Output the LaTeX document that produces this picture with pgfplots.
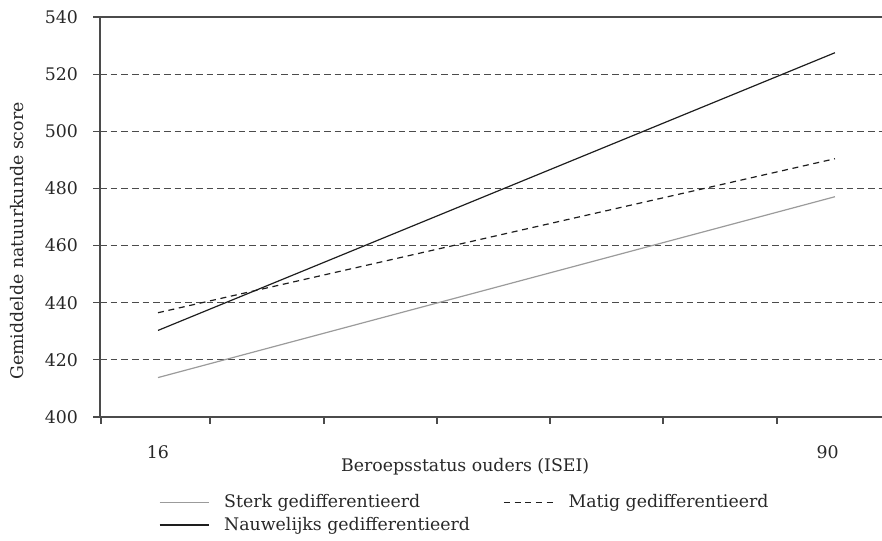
\documentclass[border=0pt]{standalone}
\usepackage{fontspec}
\setmainfont{DejaVu Serif}
\usepackage{pgfplots}
\pgfplotsset{compat=1.18}
\definecolor{axisgray}{RGB}{75,75,75}
\definecolor{textgray}{RGB}{40,40,40}
\definecolor{lightline}{RGB}{155,155,155}
\definecolor{darkline}{RGB}{30,30,30}
\begin{document}
\fontsize{13pt}{15pt}\selectfont
\color{textgray}
\begin{tikzpicture}
\useasboundingbox (-75pt,-92.25pt) rectangle (586.5pt,312.75pt);
\begin{axis}[
  scale only axis, width=586.5pt, height=300pt,
  xmin=9.66, xmax=95.14, ymin=400, ymax=540,
  axis x line=bottom, axis y line=left,
  axis line style={axisgray, line width=0.9pt, -},
  tick align=outside, major tick length=5pt,
  tick style={axisgray, line width=0.9pt},
  xtick={9.77,21.68,34.14,46.49,58.85,71.20,83.66}, xticklabels={},
  extra x ticks={16,89.2}, extra x tick labels={16,90},
  extra x tick style={major tick length=0pt, xticklabel style={yshift=-17pt}},
  ytick={400,420,440,460,480,500,520},
  extra y ticks={540},
  ymajorgrids,
  major grid style={axisgray, line width=0.9pt, dash pattern=on 5pt off 3pt},
  extra y tick style={major grid style={axisgray, line width=0.9pt, solid}},
  yticklabel style={xshift=-7pt},
  /pgf/number format/assume math mode=true,
  ylabel={Gemiddelde natuurkunde score},
  ylabel style={at={(axis description cs:-0.106,0.44)}, anchor=center},
  xlabel={Beroepsstatus ouders (ISEI)},
  xlabel style={at={(axis description cs:0.467,-0.125)}, anchor=center},
  legend columns=2, legend cell align=left,
  legend style={at={(axis description cs:0.07,-0.18)}, anchor=north west, draw=none, fill=none,
    /tikz/every odd column/.append style={column sep=9pt},
    /tikz/every even column/.append style={column sep=23pt}, row sep=1pt},
  legend image code/.code={\draw[#1] (0pt,0pt) -- (37pt,0pt);},
]
\addplot[lightline, line width=0.9pt] coordinates {(16,413.8) (90,477.1)};
\addlegendentry{Sterk gedifferentieerd}
\addplot[darkline, line width=0.9pt, dash pattern=on 4.5pt off 3.5pt] coordinates {(16,436.5) (90,490.4)};
\addlegendentry{Matig gedifferentieerd}
\addplot[darkline, line width=0.9pt] coordinates {(16,430.3) (90,527.5)};
\addlegendentry{Nauwelijks gedifferentieerd}
\end{axis}
\end{tikzpicture}
\end{document}
